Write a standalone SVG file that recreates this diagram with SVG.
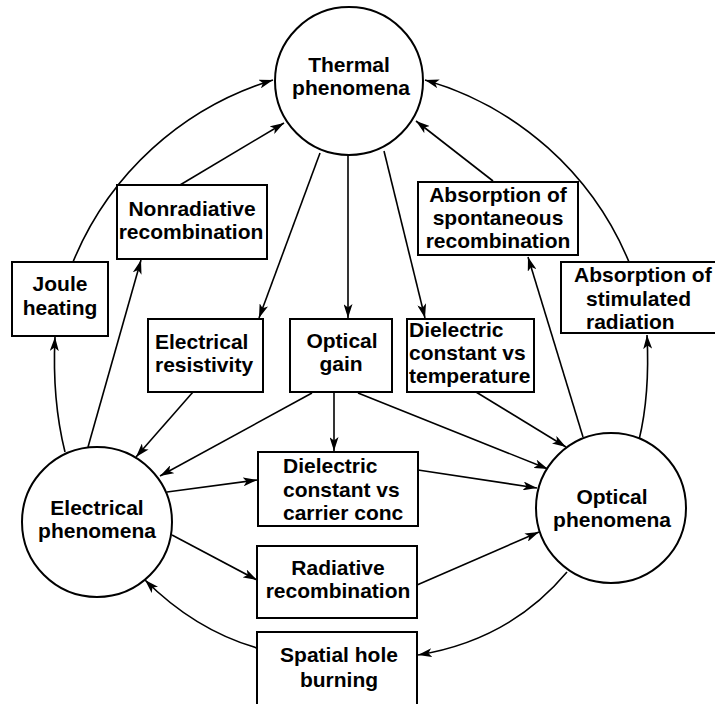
<svg xmlns="http://www.w3.org/2000/svg" width="715" height="704" viewBox="0 0 715 704">
<defs>
<marker id="ah" markerWidth="14" markerHeight="9" refX="14" refY="4.5" orient="auto" markerUnits="userSpaceOnUse">
<path d="M0,0 L14,4.5 L0,9 L3.5,4.5 z" fill="#000"/>
</marker>
</defs>
<style>
.n{fill:#fff;stroke:#000;stroke-width:2}
.t{font-family:"Liberation Sans",Arial,sans-serif;font-weight:bold;font-size:21px;fill:#000}
.m{text-anchor:middle}
.c path{fill:none;stroke:#000;stroke-width:1.6;marker-end:url(#ah)}
</style>
<rect width="715" height="704" fill="#fff"/>
<g class="c" id="connectors">
<path d="M73,262 A315,315 0 0,1 273,80"/>
<path d="M65,452 Q52,400 55,337"/>
<path d="M88,447 L141,260"/>
<path d="M180,185 L284,123"/>
<path d="M320,153 L259,318"/>
<path d="M348,155 L348,318"/>
<path d="M384,151 L425,318"/>
<path d="M493,181 L416,121"/>
<path d="M629,262 A315,315 0 0,0 425,80"/>
<path d="M583,437 L528,257"/>
<path d="M639,440 Q650,395 647,335"/>
<path d="M476,392 L566,447"/>
<path d="M358,393 L548,469"/>
<path d="M418,470 L537,488"/>
<path d="M417,585 L539,532"/>
<path d="M567,572 Q510,640 418,655"/>
<path d="M257,648 Q195,630 145,580"/>
<path d="M312,393 L160,476"/>
<path d="M193,392 L136,457"/>
<path d="M334,393 L334,451"/>
<path d="M167,492 L257,480"/>
<path d="M172,535 L257,580"/>
</g>
<g id="thermal">
<circle class="n" cx="349" cy="81" r="74"/>
<text class="t m" x="349" y="72">Thermal</text>
<text class="t m" x="351" y="95">phenomena</text>
</g>
<g id="electrical">
<circle class="n" cx="97" cy="522" r="75"/>
<text class="t m" x="97" y="515">Electrical</text>
<text class="t m" x="97" y="538">phenomena</text>
</g>
<g id="optical">
<circle class="n" cx="611" cy="508" r="75"/>
<text class="t m" x="612" y="504">Optical</text>
<text class="t m" x="612" y="527">phenomena</text>
</g>
<g id="joule">
<rect class="n" x="12" y="262" width="96" height="74"/>
<text class="t m" x="60" y="291">Joule</text>
<text class="t m" x="60" y="315">heating</text>
</g>
<g id="nonrad">
<rect class="n" x="117" y="185" width="150" height="74"/>
<text class="t m" x="192" y="216">Nonradiative</text>
<text class="t m" x="191" y="239">recombination</text>
</g>
<g id="resistivity">
<rect class="n" x="148" y="319" width="115" height="73"/>
<text class="t" x="155" y="349">Electrical</text>
<text class="t" x="155" y="372">resistivity</text>
</g>
<g id="gain">
<rect class="n" x="290" y="319" width="102" height="73"/>
<text class="t m" x="342" y="348">Optical</text>
<text class="t m" x="341" y="371">gain</text>
</g>
<g id="dieltemp">
<rect class="n" x="407" y="319" width="127" height="73"/>
<text class="t" x="409" y="337">Dielectric</text>
<text class="t" x="409" y="360">constant vs</text>
<text class="t" x="409" y="383">temperature</text>
</g>
<g id="abspont">
<rect class="n" x="418" y="182" width="160" height="73"/>
<text class="t m" x="498" y="202">Absorption of</text>
<text class="t m" x="498" y="225">spontaneous</text>
<text class="t m" x="498" y="248">recombination</text>
</g>
<g id="abstim">
<rect class="n" x="561" y="262" width="160" height="71"/>
<text class="t" x="574" y="282">Absorption of</text>
<text class="t" x="586" y="306">stimulated</text>
<text class="t" x="586" y="329">radiation</text>
</g>
<g id="dielcarrier">
<rect class="n" x="258" y="452" width="160" height="74"/>
<text class="t" x="283" y="473">Dielectric</text>
<text class="t" x="283" y="497">constant vs</text>
<text class="t" x="283" y="520">carrier conc</text>
</g>
<g id="radiative">
<rect class="n" x="257" y="546" width="160" height="72"/>
<text class="t m" x="338" y="575">Radiative</text>
<text class="t m" x="338" y="598">recombination</text>
</g>
<g id="shb">
<rect class="n" x="257" y="632" width="160" height="80"/>
<text class="t m" x="339" y="662">Spatial hole</text>
<text class="t m" x="339" y="687">burning</text>
</g>
</svg>
